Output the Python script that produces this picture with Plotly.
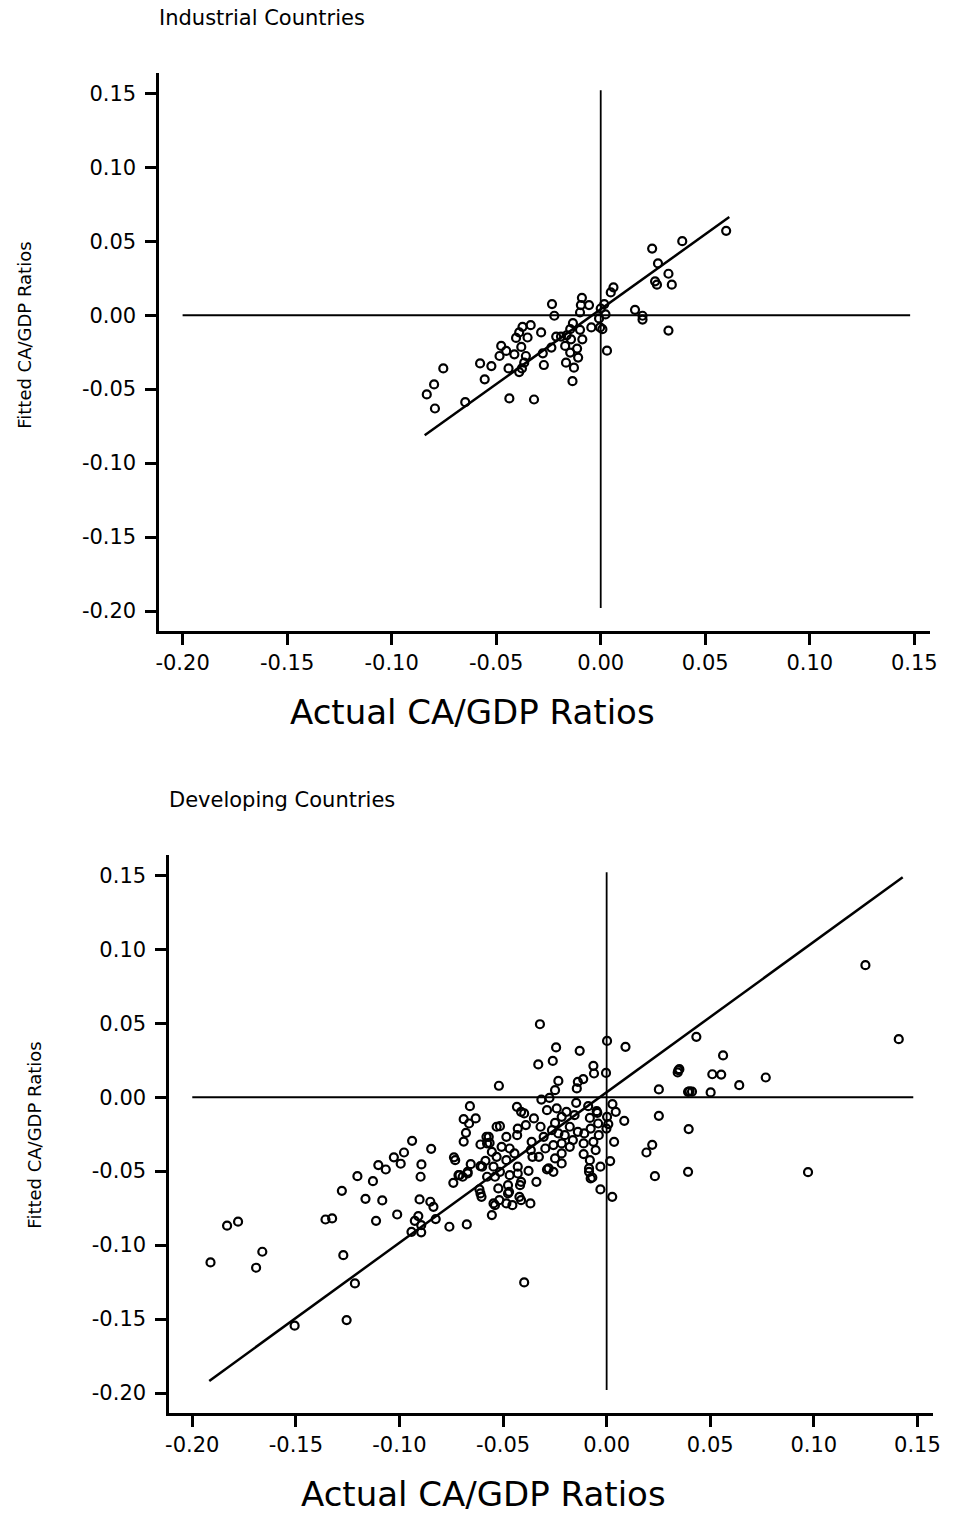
import plotly.graph_objects as go

# ---------------- DATA ----------------
tick_vals = [-0.20, -0.15, -0.10, -0.05, 0.00, 0.05, 0.10, 0.15]
tick_text = ["-0.20", "-0.15", "-0.10", "-0.05", "0.00", "0.05", "0.10", "0.15"]

ind_actual = [0.060, 0.039, 0.0246, 0.0274, 0.0324, 0.034, 0.026, 0.0269, 0.0061, 0.0048,
              0.0164, 0.020, 0.020, 0.0324, 0.003, 0.0023, 0.0017, 0.000, -0.0008, -0.0003,
              0.0008, -0.0045, -0.009, -0.0095, -0.0056, -0.0099, -0.0233, -0.0222, -0.0133, -0.0146,
              -0.0099, -0.0163, -0.019, -0.0213, -0.0088, -0.0142, -0.017, -0.0113, -0.0146, -0.0108,
              -0.0166, -0.0128, -0.0135, -0.0335, -0.0374, -0.0285, -0.039, -0.035, -0.0405, -0.038,
              -0.0476, -0.0452, -0.0484, -0.0413, -0.0358, -0.0277, -0.0236, -0.0366, -0.0377, -0.039,
              -0.0272, -0.0441, -0.0523, -0.0577, -0.0555, -0.0437, -0.0319, -0.0648, -0.0753, -0.0797,
              -0.0832, -0.0793]
ind_fitted = [0.057, 0.050, 0.045, 0.035, 0.028, 0.0206, 0.0229, 0.0206, 0.0188, 0.0154,
              0.0036, -0.0004, -0.003, -0.0104, -0.024, 0.0005, 0.0075, 0.0045, -0.0022, -0.0083,
              -0.0095, -0.0083, 0.0117, 0.0068, 0.0068, 0.0018, 0.0075, -0.0004, -0.0054, -0.0095,
              -0.0099, -0.0136, -0.0145, -0.0145, -0.0163, -0.0163, -0.0208, -0.0226, -0.0253, -0.0287,
              -0.0321, -0.0355, -0.0446, -0.0068, -0.0079, -0.0117, -0.0117, -0.0151, -0.0154, -0.0215,
              -0.0208, -0.0242, -0.0276, -0.0265, -0.0276, -0.0258, -0.0219, -0.0321, -0.036, -0.0385,
              -0.0337, -0.036, -0.0344, -0.0326, -0.0434, -0.0563, -0.057, -0.0588, -0.036, -0.0468,
              -0.0536, -0.0631]
ind_fit_x = [-0.0842, 0.0615]
ind_fit_y = [-0.0812, 0.0663]

dev_actual = [
    -0.066, -0.069, -0.0632, -0.0664, -0.0679, -0.069, -0.0609, -0.058, -0.0565, -0.0939,
    -0.0847, -0.0978, -0.1027, -0.0994, -0.1102, -0.1066, -0.1203, -0.1128, -0.1278, -0.1164,
    -0.1083, -0.1011, -0.1113, -0.1357, -0.1325, -0.1779, -0.1832, -0.1912, -0.1662, -0.1692,
    -0.1271, -0.1215, -0.1506, -0.1255, -0.0894, -0.0898, -0.0903, -0.0851, -0.0836, -0.0825,
    -0.0909, -0.0926, -0.0942, -0.0895, -0.0895, -0.0759, -0.0675, -0.0737, -0.0731, -0.074,
    -0.0715, -0.0695, -0.0671, -0.0656, -0.0614, -0.0604, -0.0554, -0.0546, -0.0585, -0.0601,
    -0.0322, -0.0244, -0.013, -0.026, -0.033, 0.0002, 0.0091, -0.0064, -0.0061, -0.0003,
    -0.0233, -0.0139, -0.0113, -0.0144, -0.0249, -0.052, -0.0276, -0.0315, 0.0252, 0.0393,
    0.0346, 0.0252, 0.0396, 0.022, 0.0192, 0.0233, 0.0393, 0.0028, 0.0044, 0.0085,
    0.0002, 0.0008, -0.0001, 0.0036, 0.0017, -0.003, -0.003, 0.0027, -0.0089, -0.0147,
    -0.0048, -0.0081, -0.0041, -0.0077, -0.0108, -0.0038, -0.0064, -0.0111, -0.0053, -0.0111,
    -0.0081, -0.0085, -0.0077, -0.0155, -0.0194, -0.0241, -0.0288, -0.0217, -0.0249, -0.0178,
    -0.0139, -0.0163, -0.0202, -0.0233, -0.0264, -0.0304, -0.0217, -0.0178, -0.0257, -0.0296,
    -0.0217, -0.0249, -0.0327, -0.0217, -0.028, -0.0257, -0.0339, -0.0362, -0.0366, -0.0358,
    -0.0351, -0.0319, -0.039, -0.0429, -0.0432, -0.0433, -0.0413, -0.0398, -0.0484, -0.0507,
    -0.0468, -0.0531, -0.0445, -0.0484, -0.0531, -0.0515, -0.0569, -0.0577, -0.0554, -0.0546,
    -0.0609, -0.0429, -0.0377, -0.0429, -0.0468, -0.0515, -0.0539, -0.0577, -0.0413, -0.0476,
    -0.0523, -0.0476, -0.0421, -0.0609, 0.1249, 0.141, 0.0433, 0.0562, 0.0768, 0.064,
    0.051, 0.0553, 0.0351, 0.0343, 0.040, 0.0412, 0.0502, -0.0045, 0.0972, -0.0398,
    -0.0368, -0.0413, -0.0455, -0.0484, -0.0518, -0.0539, -0.0418, -0.0471, -0.0069, -0.0085,
    -0.0288, -0.071, -0.0671]
dev_fitted = [
    -0.0061, -0.0149, -0.0144, -0.0178, -0.0241, -0.030, -0.032, -0.0268, -0.0309, -0.0295,
    -0.0349, -0.0374, -0.0407, -0.045, -0.0459, -0.0489, -0.0534, -0.0568, -0.0633, -0.0687,
    -0.0698, -0.0793, -0.0836, -0.0827, -0.082, -0.0842, -0.0869, -0.1117, -0.1045, -0.1153,
    -0.1068, -0.1259, -0.1545, -0.1507, -0.0455, -0.0538, -0.0691, -0.0707, -0.0741, -0.0824,
    -0.0804, -0.0836, -0.091, -0.0914, -0.0865, -0.0876, -0.086, -0.0407, -0.0426, -0.0579,
    -0.0527, -0.0538, -0.0505, -0.0453, -0.0624, -0.0674, -0.0797, -0.0718, -0.043, -0.047,
    0.0493, 0.0336, 0.0313, 0.0245, 0.0221, 0.038, 0.034, 0.0212, 0.016, 0.0164,
    0.011, 0.0104, 0.0122, 0.0059, 0.0047, 0.0077, -0.0005, -0.0016, 0.0052, 0.0036,
    0.0182, -0.0126, -0.0216, -0.0322, -0.0374, -0.0534, -0.0505, -0.0047, -0.0099, -0.016,
    -0.0133, -0.0182, -0.0212, -0.0302, -0.0432, -0.047, -0.0624, -0.0674, -0.0061, -0.0038,
    -0.0095, -0.014, -0.0178, -0.0212, -0.0245, -0.0257, -0.0302, -0.0313, -0.0358, -0.0385,
    -0.0426, -0.0482, -0.0549, -0.0122, -0.0099, -0.0076, -0.0088, -0.0133, -0.0174, -0.020,
    -0.0234, -0.029, -0.0257, -0.0245, -0.0223, -0.0268, -0.0313, -0.0336, -0.0324, -0.0347,
    -0.038, -0.0414, -0.0403, -0.0448, -0.0482, -0.0505, -0.0572, -0.0302, -0.0358, -0.0403,
    -0.0144, -0.020, -0.0189, -0.0212, -0.0257, -0.0065, -0.0099, -0.011, -0.0268, -0.0336,
    -0.0347, -0.0403, -0.038, -0.0426, -0.020, -0.0196, -0.0268, -0.0313, -0.037, -0.047,
    -0.0466, -0.047, -0.0498, -0.0516, -0.0527, -0.0505, -0.0538, -0.0538, -0.0572, -0.0595,
    -0.0617, -0.0651, -0.0674, -0.0651, 0.0892, 0.0392, 0.0408, 0.0282, 0.0133, 0.0081,
    0.0155, 0.0153, 0.0189, 0.0167, 0.004, 0.0038, 0.0032, -0.0106, -0.0507, -0.1252,
    -0.0718, -0.0696, -0.073, -0.0718, -0.0696, -0.073, -0.0595, -0.064, -0.0543, -0.0505,
    -0.0489, -0.0527, -0.0516]
dev_fit_x = [-0.1918, 0.1429]
dev_fit_y = [-0.1918, 0.1487]

ref_h_extent = [-0.20, 0.148]
ref_v_extent = [0.152, -0.198]
x_range = [-0.2112, 0.1576]
y_range = [-0.2135, 0.1637]

# ---------------- FIGURE ----------------
FONT = "DejaVu Sans"
fig = go.Figure()

def add_panel(xa, ya, ax, fy, fx_line, fy_line):
    # reference lines at zero
    fig.add_trace(go.Scatter(x=ref_h_extent, y=[0, 0], mode="lines",
                             line=dict(color="black", width=2), xaxis=xa, yaxis=ya,
                             hoverinfo="skip", showlegend=False))
    fig.add_trace(go.Scatter(x=[0, 0], y=ref_v_extent, mode="lines",
                             line=dict(color="black", width=1.8), xaxis=xa, yaxis=ya,
                             hoverinfo="skip", showlegend=False))
    # fitted line
    fig.add_trace(go.Scatter(x=fx_line, y=fy_line, mode="lines",
                             line=dict(color="black", width=2.5), xaxis=xa, yaxis=ya,
                             hoverinfo="skip", showlegend=False))
    # points
    fig.add_trace(go.Scatter(x=ax, y=fy, mode="markers",
                             marker=dict(symbol="circle-open", size=8, color="black",
                                         line=dict(width=2.2, color="black")),
                             xaxis=xa, yaxis=ya, showlegend=False))

add_panel("x", "y", ind_actual, ind_fitted, ind_fit_x, ind_fit_y)
add_panel("x2", "y2", dev_actual, dev_fitted, dev_fit_x, dev_fit_y)

W, H = 954, 1515
axis_common = dict(showline=True, linecolor="black", linewidth=2.5, showgrid=False,
                   zeroline=False, ticks="outside", tickcolor="black", tickwidth=2.5,
                   tickfont=dict(family=FONT, size=21, color="black"), fixedrange=True)

fig.update_layout(
    width=W, height=H,
    margin=dict(l=0, r=0, t=0, b=0),
    paper_bgcolor="white", plot_bgcolor="white",
    showlegend=False,
    xaxis=dict(domain=[157 / W, 937 / W], range=x_range, anchor="y",
               tickvals=tick_vals, ticktext=tick_text, ticklen=11, **axis_common),
    yaxis=dict(domain=[1 - 631 / H, 1 - 73 / H], range=y_range, anchor="x",
               tickvals=tick_vals, ticktext=tick_text, ticklen=11,
               ticklabelstandoff=5, **axis_common),
    xaxis2=dict(domain=[167 / W, 940 / W], range=x_range, anchor="y2",
                tickvals=tick_vals, ticktext=tick_text, ticklen=11, **axis_common),
    yaxis2=dict(domain=[1 - 1413 / H, 1 - 855 / H], range=y_range, anchor="x2",
                tickvals=tick_vals, ticktext=tick_text, ticklen=11,
                ticklabelstandoff=5, **axis_common),
)

ann_font = lambda s: dict(family=FONT, size=s, color="black")
annotations = [
    dict(text="Industrial Countries", x=155 / W, y=1 - 18 / H, xanchor="left", yanchor="middle",
         font=ann_font(21)),
    dict(text="Developing Countries", x=165 / W, y=1 - 800 / H, xanchor="left", yanchor="middle",
         font=ann_font(21)),
    dict(text="Actual CA/GDP Ratios", x=474 / W, y=1 - 712 / H, xanchor="center", yanchor="middle",
         font=ann_font(34)),
    dict(text="Actual CA/GDP Ratios", x=485 / W, y=1 - 1494 / H, xanchor="center", yanchor="middle",
         font=ann_font(34)),
    dict(text="Fitted CA/GDP Ratios", x=20 / W, y=1 - 335 / H, xanchor="center", yanchor="middle",
         textangle=-90, font=ann_font(18)),
    dict(text="Fitted CA/GDP Ratios", x=30 / W, y=1 - 1135 / H, xanchor="center", yanchor="middle",
         textangle=-90, font=ann_font(18)),
]
for a in annotations:
    a.update(xref="paper", yref="paper", showarrow=False)
fig.update_layout(annotations=annotations)

fig.write_html("out.html", config={"displayModeBar": False},
               post_script="document.body.style.margin='0px';")
